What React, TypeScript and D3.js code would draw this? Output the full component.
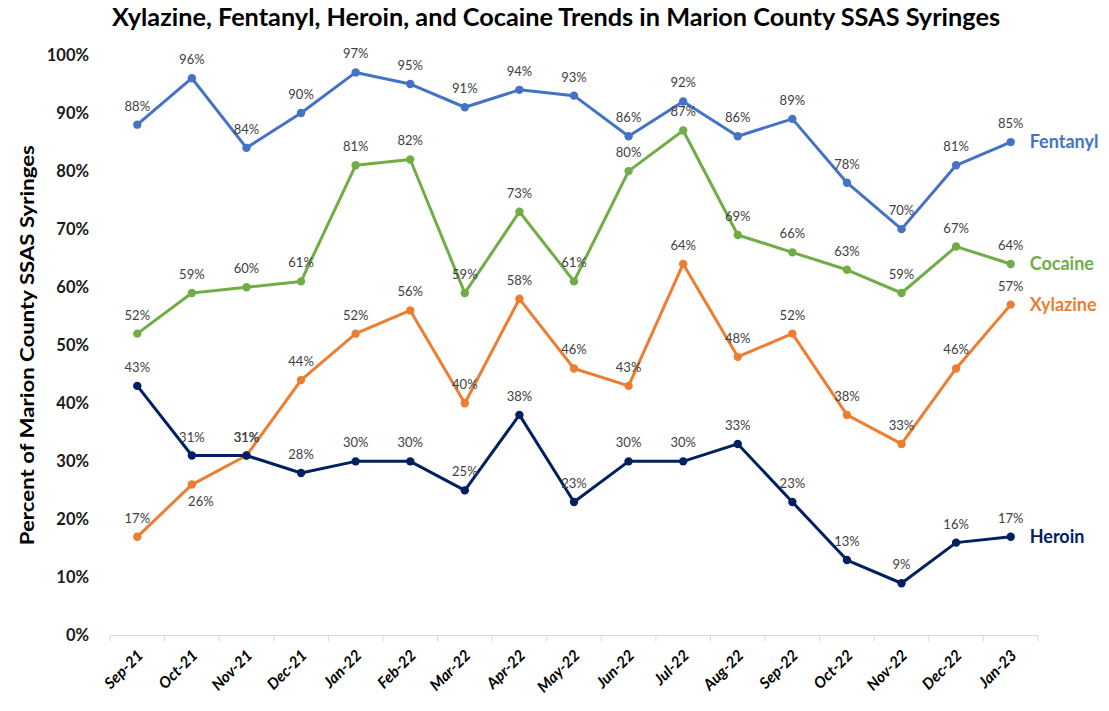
import React from "react";
import * as d3 from "d3";

const months = [
  "Sep-21", "Oct-21", "Nov-21", "Dec-21", "Jan-22", "Feb-22", "Mar-22", "Apr-22", "May-22",
  "Jun-22", "Jul-22", "Aug-22", "Sep-22", "Oct-22", "Nov-22", "Dec-22", "Jan-23",
];
const fentanyl = [88, 96, 84, 90, 97, 95, 91, 94, 93, 86, 92, 86, 89, 78, 70, 81, 85];
const cocaine = [52, 59, 60, 61, 81, 82, 59, 73, 61, 80, 87, 69, 66, 63, 59, 67, 64];
const xylazine = [17, 26, 31, 44, 52, 56, 40, 58, 46, 43, 64, 48, 52, 38, 33, 46, 57];
const heroin = [43, 31, 31, 28, 30, 30, 25, 38, 23, 30, 30, 33, 23, 13, 9, 16, 17];
const yTicks = [0, 10, 20, 30, 40, 50, 60, 70, 80, 90, 100];

const width = 1109;
const height = 711;
const marginLeft = 110;
const marginRight = 71;
const marginTop = 55;
const marginBottom = 75;

const font = "Lato, 'Open Sans', sans-serif";

export default function App() {
  const x = d3
    .scaleBand()
    .domain(months)
    .range([marginLeft, width - marginRight])
    .padding(0);
  const y = d3
    .scaleLinear()
    .domain([0, 100])
    .range([height - marginBottom - 0.5, marginTop]);

  const cx = (m: string) => (x(m) ?? 0) + x.bandwidth() / 2;

  const series = [
    { name: "Fentanyl", values: fentanyl, color: "#4472C4" },
    { name: "Cocaine", values: cocaine, color: "#70AD47" },
    { name: "Xylazine", values: xylazine, color: "#ED7D31" },
    { name: "Heroin", values: heroin, color: "#002060" },
  ];

  const line = d3
    .line<number>()
    .x((d, i) => cx(months[i]))
    .y((d) => y(d));

  const axisY = y(0);
  const boundaries = [...months.map((m) => x(m) ?? 0), width - marginRight];

  return (
    <svg width={width} height={height} style={{ display: "block", margin: "-8px" }}>
      <rect width={width} height={height} fill="#fff" />
      <text
        x={556}
        y={26}
        textAnchor="middle"
        fontFamily={font}
        fontWeight="bold"
        fontSize={24}
        textLength={888}
        lengthAdjust="spacingAndGlyphs"
        fill="#000"
      >
        Xylazine, Fentanyl, Heroin, and Cocaine Trends in Marion County SSAS Syringes
      </text>

      <text
        transform={`translate(34,${(y(0) + y(100)) / 2}) rotate(-90)`}
        textAnchor="middle"
        fontFamily={font}
        fontWeight="bold"
        fontSize={19}
        textLength={400}
        lengthAdjust="spacingAndGlyphs"
        fill="#000"
      >
        Percent of Marion County SSAS Syringes
      </text>

      {yTicks.map((t) => (
        <text
          key={t}
          x={89}
          y={y(t)}
          dy="0.35em"
          textAnchor="end"
          fontFamily={font}
          fontWeight="bold"
          fontSize={16.5}
          fill="#1a1a1a"
        >
          {t}%
        </text>
      ))}

      <line x1={marginLeft} x2={width - marginRight} y1={axisY} y2={axisY} stroke="#d9d9d9" strokeWidth={1} />
      {boundaries.map((b, i) => (
        <line key={i} x1={b} x2={b} y1={axisY} y2={axisY + 6} stroke="#d9d9d9" strokeWidth={1} />
      ))}
      {months.map((m) => (
        <text
          key={m}
          transform={`translate(${cx(m) + 3},${axisY + 17}) rotate(-45)`}
          textAnchor="end"
          dy="0.35em"
          fontFamily={font}
          fontWeight="bold"
          fontStyle="italic"
          fontSize={15.5}
          fill="#000"
        >
          {m}
        </text>
      ))}

      {series.map((s) => (
        <g key={s.name}>
          <path d={line(s.values) ?? ""} fill="none" stroke={s.color} strokeWidth={3} strokeLinejoin="round" />
          {s.values.map((v, i) => (
            <circle key={i} cx={cx(months[i])} cy={y(v)} r={4.2} fill={s.color} />
          ))}
          {s.values.map((v, i) => {
            const below = s.name === "Xylazine" && i === 1;
            return (
              <text
                key={"l" + i}
                x={cx(months[i]) + (below ? 9 : 0)}
                y={y(v) + (below ? 21 : -14)}
                textAnchor="middle"
                fontFamily={font}
                fontSize={13}
                fill="#404040"
              >
                {v}%
              </text>
            );
          })}
          <text
            x={cx(months[months.length - 1]) + 19}
            y={y(s.values[s.values.length - 1])}
            dy="0.35em"
            fontFamily={font}
            fontWeight="bold"
            fontSize={18}
            fill={s.color}
          >
            {s.name}
          </text>
        </g>
      ))}
    </svg>
  );
}
